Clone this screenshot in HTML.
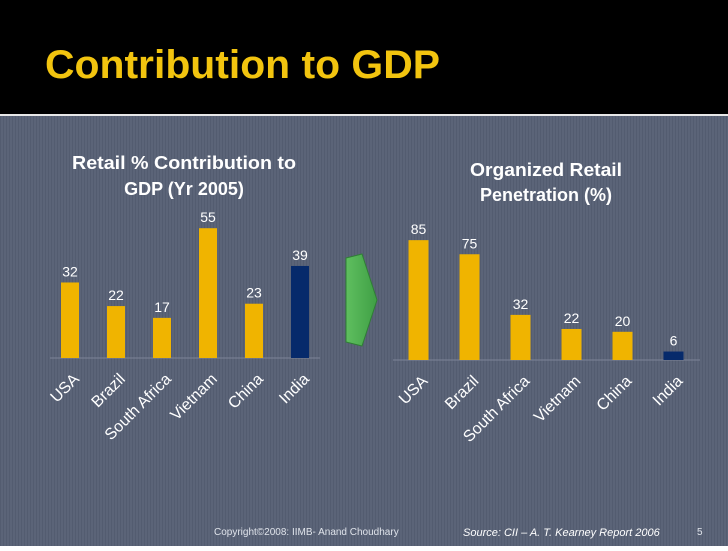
<!DOCTYPE html>
<html><head><meta charset="utf-8">
<style>
html,body{margin:0;padding:0;}
body{width:728px;height:546px;overflow:hidden;font-family:"Liberation Sans",sans-serif;}
</style></head>
<body>
<svg width="728" height="546" viewBox="0 0 728 546" xmlns="http://www.w3.org/2000/svg">
<defs>
<pattern id="stripes" width="3" height="10" patternUnits="userSpaceOnUse">
<rect width="3" height="10" fill="#5b6478"/><rect width="1" height="10" fill="#535c70"/>
</pattern>
<linearGradient id="arrowGrad" x1="0" y1="0" x2="1" y2="0">
<stop offset="0" stop-color="#5fbf5f"/><stop offset="1" stop-color="#3f9f45"/>
</linearGradient>
</defs>
<rect width="728" height="546" fill="url(#stripes)"/>
<rect width="728" height="114" fill="#000"/>
<rect y="114" width="728" height="2" fill="#e8e8e8"/>
<text x="45" y="78" fill="#f2c40f" font-size="40" font-weight="bold" textLength="395" lengthAdjust="spacingAndGlyphs">Contribution to GDP</text>

<text x="184" y="169" fill="#fff" font-size="18" font-weight="bold" text-anchor="middle" textLength="224" lengthAdjust="spacingAndGlyphs">Retail % Contribution to</text>
<text x="184" y="195" fill="#fff" font-size="18" font-weight="bold" text-anchor="middle">GDP (Yr 2005)</text>
<text x="546" y="176" fill="#fff" font-size="18" font-weight="bold" text-anchor="middle" textLength="152" lengthAdjust="spacingAndGlyphs">Organized Retail</text>
<text x="546" y="201" fill="#fff" font-size="18" font-weight="bold" text-anchor="middle">Penetration (%)</text>

<g id="left"></g>
<g id="right"></g>

<path d="M346 258 L362 254 L377 300 L362 346 L346 342 Z" fill="url(#arrowGrad)" stroke="#2f7f35" stroke-width="1"/>

<text x="214" y="535" fill="#dfe3ea" font-size="10">Copyright©2008: IIMB- Anand Choudhary</text>
<text x="463" y="536" fill="#fff" font-size="11" font-style="italic">Source: CII – A. T. Kearney Report 2006</text>
<text x="697" y="535" fill="#dfe3ea" font-size="10">5</text>
</svg>
<script>
const categories = ["USA","Brazil","South Africa","Vietnam","China","India"];
const gdpValues = [32,22,17,55,23,39];
const penetrationValues = [85,75,32,22,20,6];
const NS = "http://www.w3.org/2000/svg";
function drawChart(gid, values, x0, step, barW, baseY, pxPerUnit, lineStart, lineEnd){
  const g = document.getElementById(gid);
  const yScale = v => baseY - v * pxPerUnit;
  const xScale = i => x0 + i * step;
  const ln = document.createElementNS(NS, "line");
  ln.setAttribute("x1", lineStart); ln.setAttribute("x2", lineEnd);
  ln.setAttribute("y1", baseY); ln.setAttribute("y2", baseY);
  ln.setAttribute("stroke", "#7d8597");
  
  
  g.appendChild(ln);
  values.forEach((v, i) => {
    const cx = xScale(i);
    const r = document.createElementNS(NS, "rect");
    r.setAttribute("x", cx - barW/2); r.setAttribute("width", barW);
    r.setAttribute("y", yScale(v)); r.setAttribute("height", baseY - yScale(v));
    r.setAttribute("fill", categories[i] === "India" ? "#062a6b" : "#f0b400");
    
    
    g.appendChild(r);
    const t = document.createElementNS(NS, "text");
    t.setAttribute("x", cx); t.setAttribute("y", yScale(v) - 6);
    t.setAttribute("fill", "#fff"); t.setAttribute("font-size", "14");
    t.setAttribute("text-anchor", "middle");
    t.textContent = v;
    
    
    g.appendChild(t);
    const c = document.createElementNS(NS, "text");
    const lx = cx + 10, ly = baseY + 22;
    c.setAttribute("x", lx); c.setAttribute("y", ly);
    c.setAttribute("fill", "#fff"); c.setAttribute("font-size", "16");
    c.setAttribute("text-anchor", "end");
    c.setAttribute("transform", "rotate(-45 " + lx + " " + ly + ")");
    c.textContent = categories[i];
    
    
    g.appendChild(c);
  });
}
drawChart("left", gdpValues, 70, 46, 18, 358, 2.36, 50, 320);
drawChart("right", penetrationValues, 418.5, 51, 20, 360, 1.41, 393, 700);
</script>
</body></html>
